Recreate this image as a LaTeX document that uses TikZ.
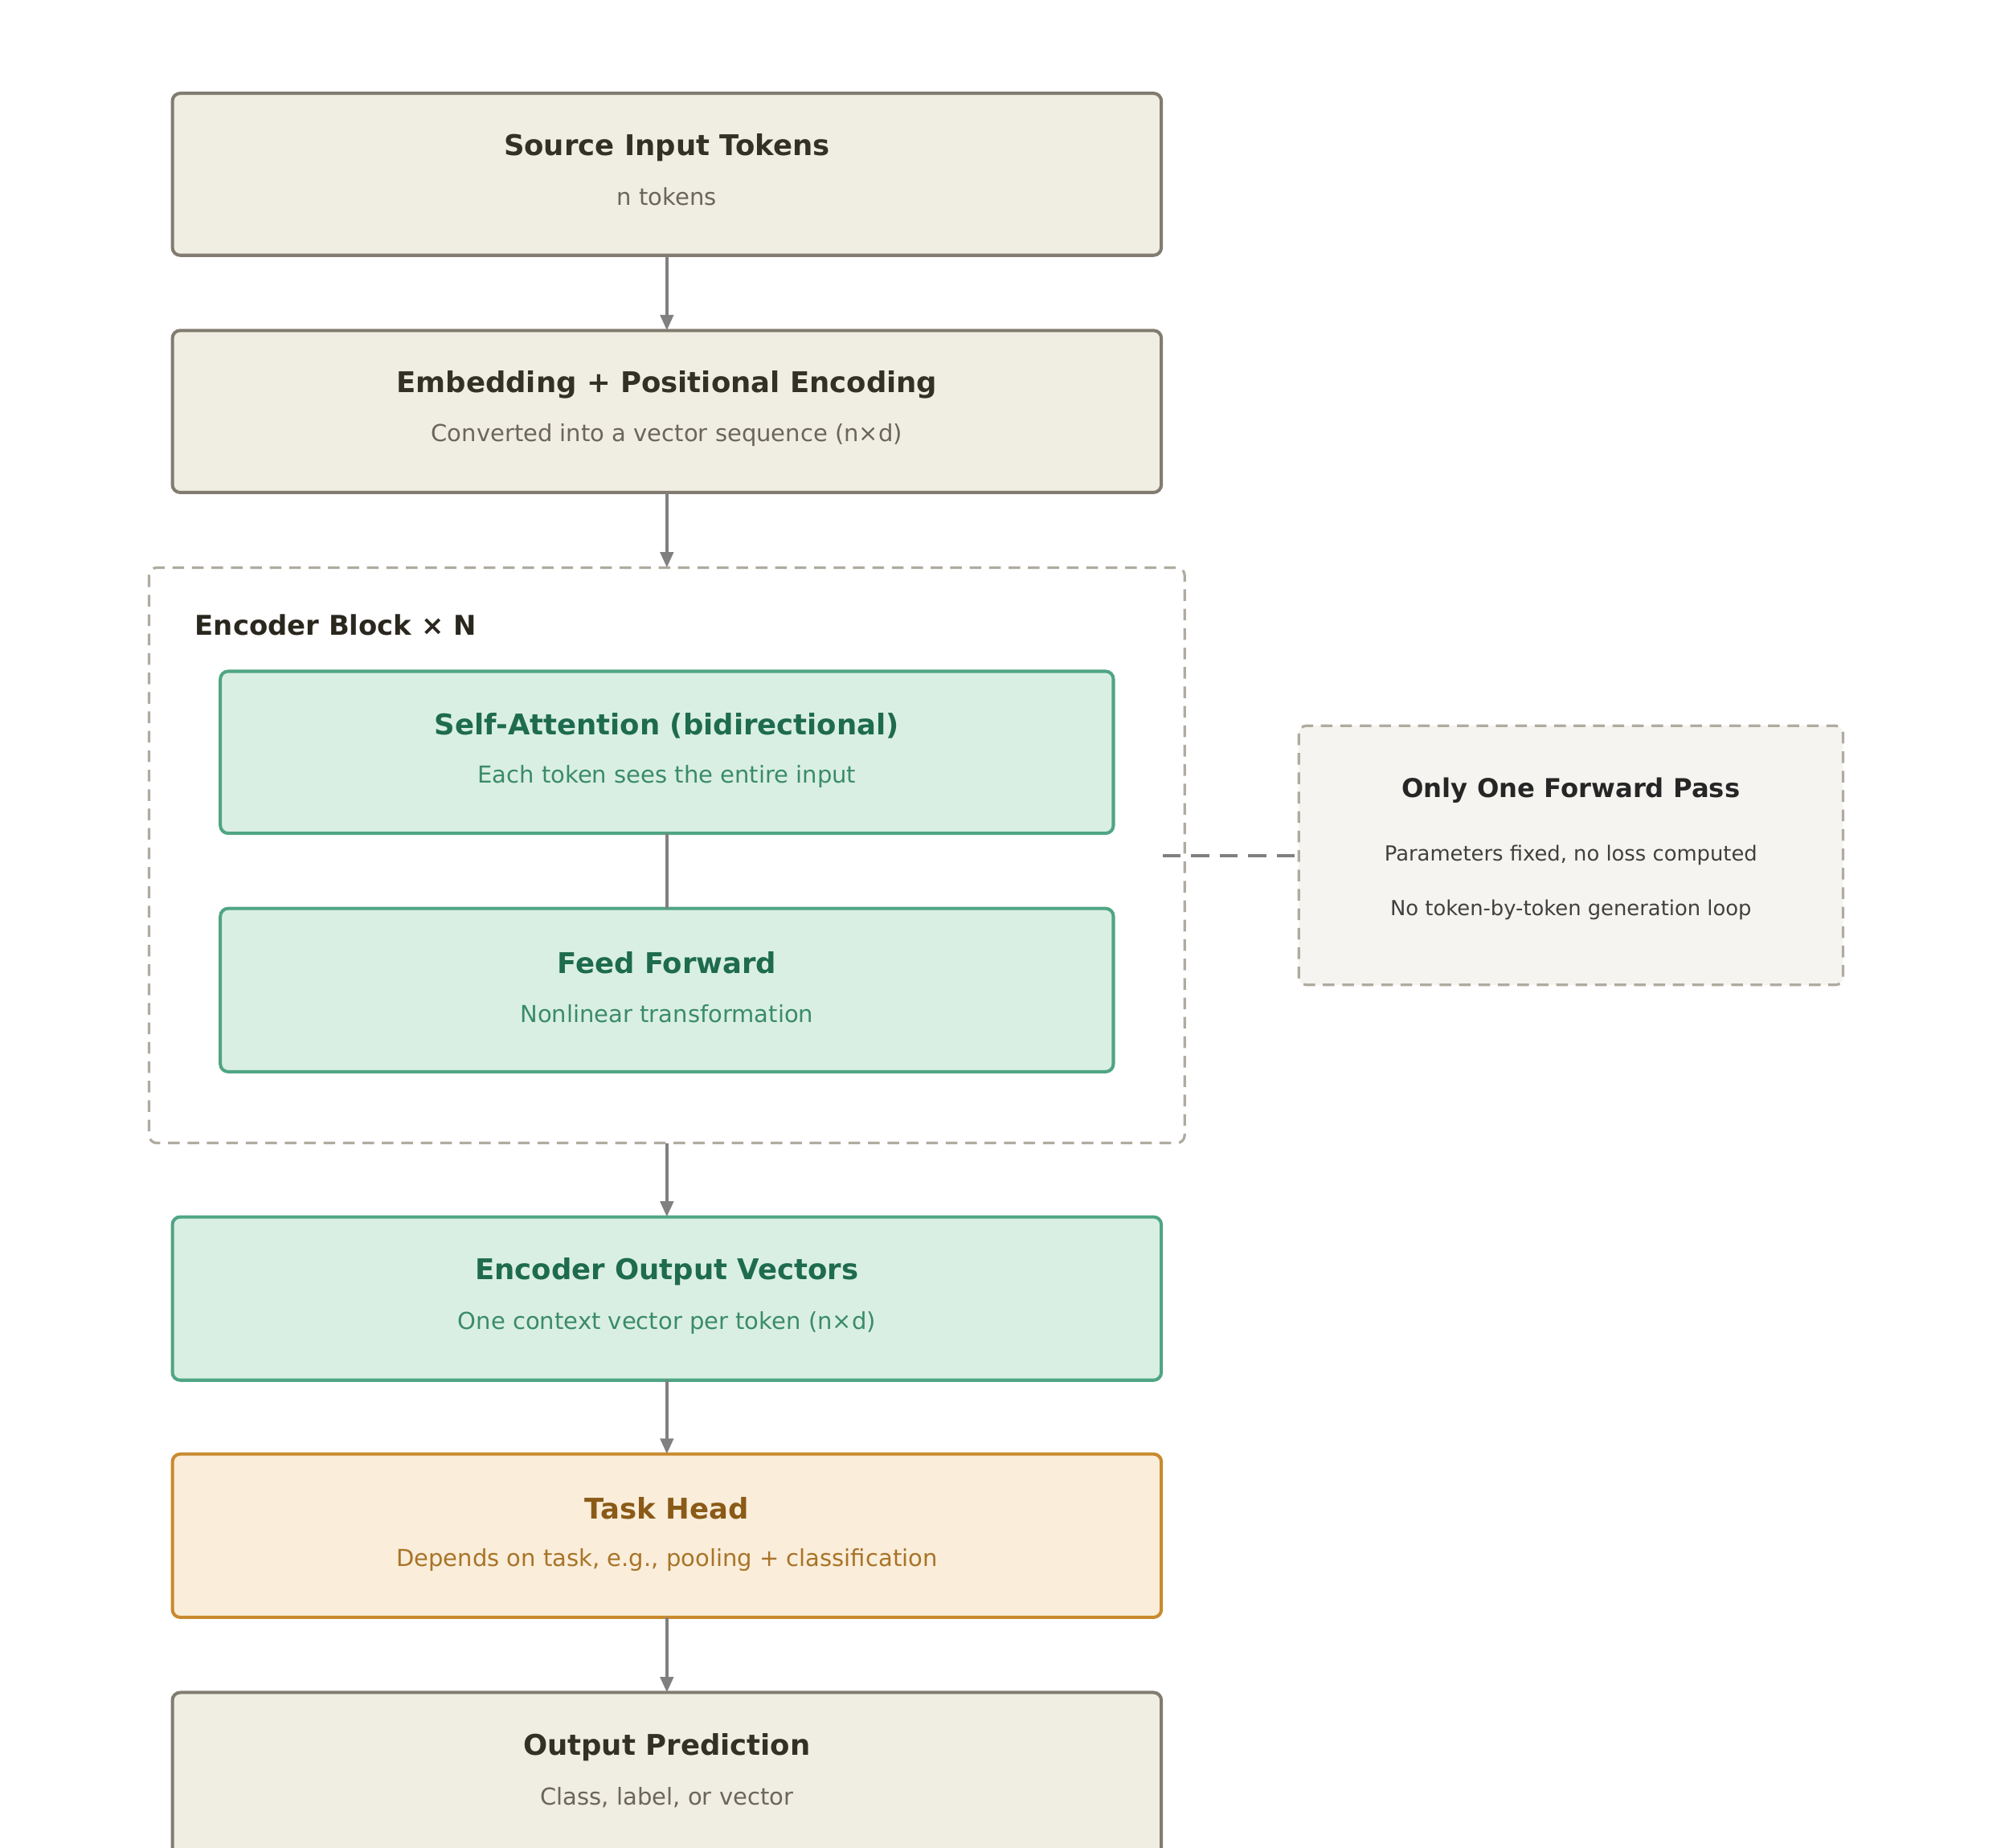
\documentclass[tikz,border=0pt]{standalone}
\usepackage{fontspec}
\setmainfont{DejaVu Sans}
\usetikzlibrary{arrows.meta}
\definecolor{bfill}{HTML}{F0EDE2}\definecolor{bdraw}{HTML}{827C70}\definecolor{btitle}{HTML}{333026}\definecolor{bsub}{HTML}{6B665C}
\definecolor{gfill}{HTML}{DAEFE4}\definecolor{gdraw}{HTML}{4FA584}\definecolor{gtitle}{HTML}{1E6B4F}\definecolor{gsub}{HTML}{3A8B6A}
\definecolor{ofill}{HTML}{FAEDDA}\definecolor{odraw}{HTML}{C98A2E}\definecolor{otitle}{HTML}{8A5A17}\definecolor{osub}{HTML}{A87428}
\definecolor{sfill}{HTML}{F5F4F0}\definecolor{sdraw}{HTML}{B0ABA0}\definecolor{arr}{HTML}{808080}
\tikzset{
 box/.style={draw=#1draw,fill=#1fill,line width=2.5pt,rounded corners=6pt},
 ttl/.style={font=\fontsize{22}{26}\selectfont\bfseries,anchor=center},
 sub/.style={font=\fontsize{18}{22}\selectfont,anchor=center},
 conn/.style={draw=arr,line width=2.5pt,-{Triangle[length=12pt,width=10pt]}},
}
\begin{document}
\begin{tikzpicture}[x=1pt,y=-1pt]
\useasboundingbox (0,0) rectangle (1550,1426);
% encoder block
\draw[draw=sdraw,line width=2pt,dash pattern=on 9pt off 6pt,rounded corners=6pt] (115,438) rectangle (914,882);
\node[anchor=west,font=\fontsize{21}{25}\selectfont\bfseries,text=btitle!80!black] (enclbl) at (147,482) {Encoder Block × N};
% boxes
\newcommand{\mybox}[7]{%
 \draw[box=#1] (#3,#4) rectangle (#5,#6);
 \coordinate (#2-n) at ({(#3+#5)/2},#4);
 \coordinate (#2-s) at ({(#3+#5)/2},#6);
 \node[ttl,text=#1title] (#2-t) at ({(#3+#5)/2},#4+42) {#7};}
\mybox{b}{src}{133}{72}{896}{197}{Source Input Tokens}
\node[sub,text=bsub] at (514.5,152) {n tokens};
\mybox{b}{emb}{133}{255}{896}{380}{Embedding + Positional Encoding}
\node[sub,text=bsub] at (514.5,336) {Converted into a vector sequence (n×d)};
\mybox{g}{sa}{170}{518}{859}{643}{Self-Attention (bidirectional)}
\node[sub,text=gsub] at (514.5,599) {Each token sees the entire input};
\mybox{g}{ff}{170}{701}{859}{827}{Feed Forward}
\node[sub,text=gsub] at (514.5,782) {Nonlinear transformation};
\mybox{g}{out}{133}{939}{896}{1065}{Encoder Output Vectors}
\node[sub,text=gsub] at (514.5,1021) {One context vector per token (n×d)};
\mybox{o}{task}{133}{1122}{896}{1248}{Task Head}
\node[sub,text=osub] at (514.5,1204) {Depends on task, e.g., pooling + classification};
\mybox{b}{pred}{133}{1306}{896}{1440}{Output Prediction}
\node[sub,text=bsub] at (514.5,1387) {Class, label, or vector};
\coordinate (enc-n) at (514.5,438); \coordinate (enc-s) at (514.5,882);
% side box
\draw[draw=sdraw,fill=sfill,line width=2pt,dash pattern=on 9pt off 6pt,rounded corners=6pt] (1002,560) rectangle (1422,760);
\node[font=\fontsize{20}{24}\selectfont\bfseries,text=black!85] (side) at (1212,610) {Only One Forward Pass};
\node[font=\fontsize{16}{20}\selectfont,text=black!75] at (1212,660) {Parameters fixed, no loss computed};
\node[font=\fontsize{16}{20}\selectfont,text=black!75] at (1212,702) {No token-by-token generation loop};
\coordinate (dashA) at (897,660); \coordinate (dashB) at (1002,660);
\draw[draw=arr,line width=2.5pt,dash pattern=on 14pt off 8pt] (dashA) -- (dashB);
% connectors
\draw[conn] (src-s) -- (emb-n);
\draw[conn] (emb-s) -- (enc-n);
\draw[draw=arr,line width=2.5pt] (sa-s) -- (ff-n);
\draw[conn] (enc-s) -- (out-n);
\draw[conn] (out-s) -- (task-n);
\draw[conn] (task-s) -- (pred-n);
\end{tikzpicture}
\end{document}
